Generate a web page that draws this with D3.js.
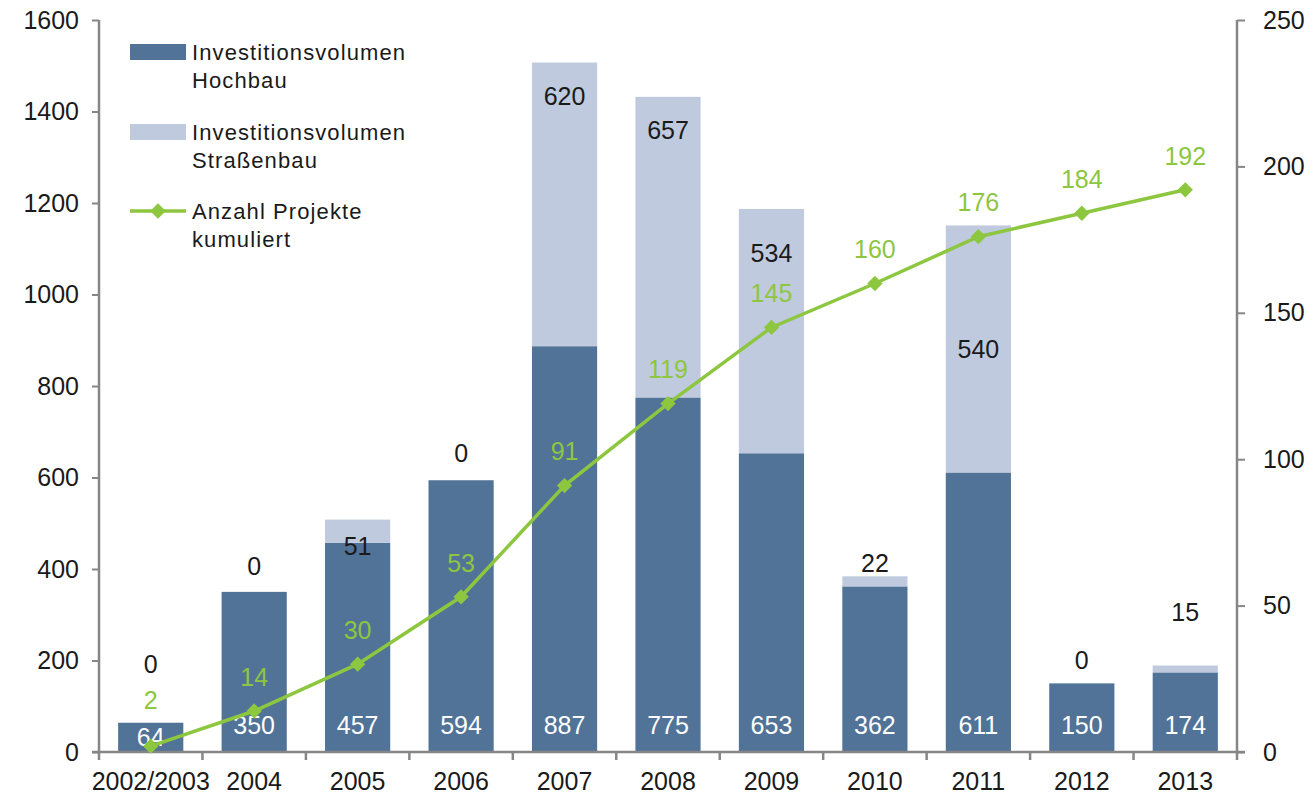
<!DOCTYPE html>
<html>
<head>
<meta charset="utf-8">
<script src="https://cdn.jsdelivr.net/npm/d3@7"></script>
<style>
  body { margin: 0; background: #fff; }
  svg { display: block; font-family: "Liberation Sans", Arial, sans-serif; }
</style>
</head>
<body>
<svg id="chart" width="1315" height="795"></svg>
<script>
// Data
const years = ['2002/2003', '2004', '2005', '2006', '2007', '2008', '2009', '2010', '2011', '2012', '2013'];
const hochbau = [64, 350, 457, 594, 887, 775, 653, 362, 611, 150, 174];
const strassenbau = [0, 0, 51, 0, 620, 657, 534, 22, 540, 0, 15];
const projekte = [2, 14, 30, 53, 91, 119, 145, 160, 176, 184, 192];
const leftTicks = [0, 200, 400, 600, 800, 1000, 1200, 1400, 1600];
const rightTicks = [0, 50, 100, 150, 200, 250];

const COLORS = {
    hoch: '#517398',
    strasse: '#C0CADE',
    line: '#8DC63F',
    axis: '#868686',
    text: '#1a1a1a'
};
const FONT = '"Liberation Sans", Arial, sans-serif';

const svg = d3.select('#chart');
const plot = { left: 99, right: 1237, top: 20, bottom: 752 };

const x = d3.scaleBand()
    .domain(years)
    .range([plot.left, plot.right])
    .paddingInner(0.37)
    .paddingOuter(0.185);

const yL = d3.scaleLinear().domain([0, 1600]).range([plot.bottom, plot.top]);
const yR = d3.scaleLinear().domain([0, 250]).range([plot.bottom, plot.top]);

const rows = years.map((yr, i) => ({ yr, h: hochbau[i], s: strassenbau[i], p: projekte[i], i }));

// Bars
const bars = svg.append('g');
bars.selectAll('rect.hoch')
    .data(rows)
    .join('rect')
    .attr('class', 'hoch')
    .attr('x', d => x(d.yr))
    .attr('width', x.bandwidth())
    .attr('y', d => yL(d.h))
    .attr('height', d => yL(0) - yL(d.h))
    .attr('fill', COLORS.hoch);

bars.selectAll('rect.strasse')
    .data(rows.filter(d => d.s > 0))
    .join('rect')
    .attr('class', 'strasse')
    .attr('x', d => x(d.yr))
    .attr('width', x.bandwidth())
    .attr('y', d => yL(d.h + d.s))
    .attr('height', d => yL(d.h) - yL(d.h + d.s))
    .attr('fill', COLORS.strasse);

// Axes
const axisLeft = svg.append('g')
    .attr('transform', `translate(${plot.left},0)`)
    .call(d3.axisLeft(yL).tickValues(leftTicks).tickFormat(d3.format('d')).tickSize(7).tickPadding(13));

const axisRight = svg.append('g')
    .attr('transform', `translate(${plot.right},0)`)
    .call(d3.axisRight(yR).tickValues(rightTicks).tickFormat(d3.format('d')).tickSize(8).tickPadding(18));

// bottom axis: ticks between categories
const catEdges = d3.range(years.length + 1).map(i => plot.left + i * (plot.right - plot.left) / years.length);
const axisBottom = svg.append('g');
axisBottom.append('line')
    .attr('x1', plot.left - 7).attr('x2', plot.right + 8)
    .attr('y1', plot.bottom).attr('y2', plot.bottom);
axisBottom.selectAll('line.tick')
    .data(catEdges)
    .join('line')
    .attr('class', 'tick')
    .attr('x1', d => d).attr('x2', d => d)
    .attr('y1', plot.bottom).attr('y2', plot.bottom + 8);
axisBottom.selectAll('text')
    .data(years)
    .join('text')
    .attr('x', d => x(d) + x.bandwidth() / 2)
    .attr('y', 790)
    .attr('text-anchor', 'middle')
    .attr('font-size', 25)
    .attr('fill', COLORS.text)
    .text(d => d);

[axisLeft, axisRight].forEach(g => {
    g.attr('font-family', FONT).attr('font-size', 25);
    g.select('.domain').attr('stroke', COLORS.axis).attr('stroke-width', 2.5)
        .attr('d', `M0,${plot.top}V${plot.bottom}`);
    g.selectAll('.tick line').attr('stroke', COLORS.axis).attr('stroke-width', 2);
    g.selectAll('.tick text').attr('fill', COLORS.text);
});
axisBottom.selectAll('line').attr('stroke', COLORS.axis).attr('stroke-width', 2.5);

// Bar labels
const cx = d => x(d.yr) + x.bandwidth() / 2;
const labels = svg.append('g').attr('font-size', 25);

labels.selectAll('text.hoch')
    .data(rows)
    .join('text')
    .attr('class', 'hoch')
    .attr('x', cx)
    .attr('y', d => yL(0) - Math.min(27, (yL(0) - yL(d.h)) / 2))
    .attr('dy', '0.35em')
    .attr('text-anchor', 'middle')
    .attr('fill', '#fff')
    .text(d => d.h);

// manual nudges (px below stack top) like in the original spreadsheet chart
const strLabelDy = [-58, -26, 27, -27, 34, 33, 44, -13, null, -23, -53];
labels.selectAll('text.strasse')
    .data(rows)
    .join('text')
    .attr('class', 'strasse')
    .attr('x', cx)
    .attr('y', d => strLabelDy[d.i] === null
        ? yL(d.h + d.s / 2)
        : yL(d.h + d.s) + strLabelDy[d.i])
    .attr('dy', '0.35em')
    .attr('text-anchor', 'middle')
    .attr('fill', COLORS.text)
    .text(d => d.s);

// Line
const line = d3.line().x(cx).y(d => yR(d.p));
svg.append('path')
    .datum(rows)
    .attr('d', line)
    .attr('fill', 'none')
    .attr('stroke', COLORS.line)
    .attr('stroke-width', 3.5);

const diamond = d3.symbol().type(d3.symbolDiamond2).size(150);
svg.append('g').selectAll('path')
    .data(rows)
    .join('path')
    .attr('d', diamond)
    .attr('transform', d => `translate(${cx(d)},${yR(d.p)})`)
    .attr('fill', COLORS.line);

labels.selectAll('text.proj')
    .data(rows)
    .join('text')
    .attr('class', 'proj')
    .attr('x', cx)
    .attr('y', d => yR(d.p) - (d.i === 0 ? 46 : 34))
    .attr('dy', '0.35em')
    .attr('text-anchor', 'middle')
    .attr('fill', COLORS.line)
    .text(d => d.p);

// Legend
const legend = svg.append('g')
    .attr('font-size', 22)
    .attr('letter-spacing', 1.1)
    .attr('fill', COLORS.text);
const legendItems = [
    { type: 'rect', color: COLORS.hoch, lines: ['Investitionsvolumen', 'Hochbau'], y: 52 },
    { type: 'rect', color: COLORS.strasse, lines: ['Investitionsvolumen', 'Straßenbau'], y: 132 },
    { type: 'line', color: COLORS.line, lines: ['Anzahl Projekte', 'kumuliert'], y: 211 }
];
legendItems.forEach(it => {
    if (it.type === 'rect') {
        legend.append('rect')
            .attr('x', 130).attr('y', it.y - 8).attr('width', 56).attr('height', 16)
            .attr('fill', it.color);
    } else {
        legend.append('line')
            .attr('x1', 130).attr('x2', 186).attr('y1', it.y).attr('y2', it.y)
            .attr('stroke', it.color).attr('stroke-width', 3.5);
        legend.append('path')
            .attr('d', diamond)
            .attr('transform', `translate(158,${it.y})`)
            .attr('fill', it.color);
    }
    legend.append('text')
        .attr('x', 192).attr('y', it.y + 8)
        .text(it.lines[0]);
    legend.append('text')
        .attr('x', 192).attr('y', it.y + 36)
        .text(it.lines[1]);
});
</script>
</body>
</html>
